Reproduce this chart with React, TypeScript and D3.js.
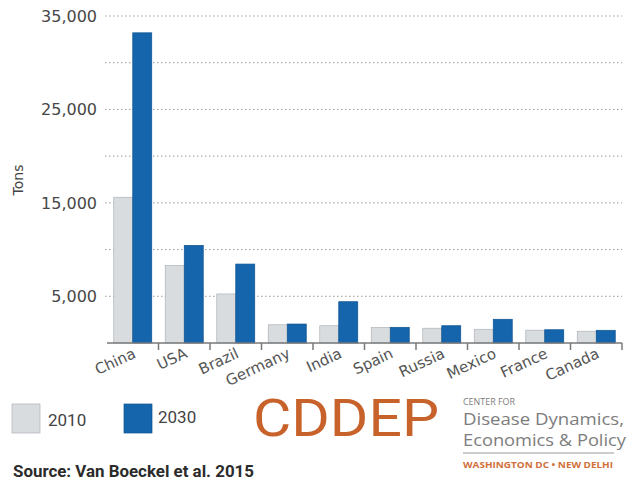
import React from 'react';
import * as d3 from 'd3';

// Antibiotic consumption in livestock, tons
const countries = ['China', 'USA', 'Brazil', 'Germany', 'India', 'Spain', 'Russia', 'Mexico', 'France', 'Canada'];
const years = ['2010', '2030'];
const values2010 = [15600, 8300, 5250, 1950, 1850, 1650, 1580, 1470, 1370, 1260];
const values2030 = [33200, 10450, 8450, 2030, 4420, 1680, 1850, 2540, 1420, 1360];
const gridTicks = [5000, 10000, 15000, 20000, 25000, 30000, 35000];
const labelTicks = [5000, 15000, 25000, 35000];

const W = 631;
const H = 482;
const FONT = '"DejaVu Sans", Verdana, sans-serif';
const COLORS: Record<string, string> = { '2010': '#d9dcdf', '2030': '#1565ad' };
const STROKES: Record<string, string> = { '2010': '#aeb3b8', '2030': '#0f548f' };

const App: React.FC = () => {
  const x0 = d3.scaleBand().domain(countries).range([107, 622]).paddingInner(0).paddingOuter(0);
  const x1 = d3.scaleBand().domain(years).range([0, x0.bandwidth()]).paddingInner(0).paddingOuter(0.355);
  const y = d3.scaleLinear().domain([0, 35000]).range([343, 16]);
  const fmt = d3.format(',');

  const rows = countries.map((c, i) => ({ country: c, '2010': values2010[i], '2030': values2030[i] }));

  return (
    <div style={{ position: 'absolute', left: 0, top: 0 }}>
      <svg width={W} height={H} style={{ display: 'block', background: '#fff' }}>
        {/* Gridlines */}
        {gridTicks.map(t => (
          <line key={t} x1={105} x2={622} y1={y(t)} y2={y(t)} stroke="#9a9a9a" strokeWidth={1} strokeDasharray="1.5,2.5" />
        ))}
        {/* Y tick labels */}
        {labelTicks.map(t => (
          <text key={t} x={97} y={y(t)} dy="0.36em" textAnchor="end" fontFamily={FONT} fontSize={16} fill="#474747">
            {fmt(t)}
          </text>
        ))}
        <text transform={`translate(23,180) rotate(-90)`} textAnchor="middle" fontFamily={FONT} fontSize={14} fill="#444">Tons</text>

        {/* Bars */}
        {rows.map(r => (
          <g key={r.country} transform={`translate(${x0(r.country)},0)`}>
            {years.map(yr => (
              <rect
                key={yr}
                x={x1(yr)!}
                y={y((r as any)[yr])}
                width={x1.bandwidth()}
                height={y(0) - y((r as any)[yr])}
                fill={COLORS[yr]}
                stroke={STROKES[yr]}
                strokeWidth={0.7}
              />
            ))}
          </g>
        ))}

        {/* X axis */}
        <line x1={107} x2={622} y1={343} y2={343} stroke="#7a7a7a" strokeWidth={1.6} />
        {countries.map(c => (
          <line key={c} x1={x0(c)! + x0.bandwidth()} x2={x0(c)! + x0.bandwidth()} y1={343} y2={350} stroke="#7a7a7a" strokeWidth={1.5} />
        ))}
        {countries.map(c => (
          <text
            key={c}
            transform={`translate(${x0(c)! + x0.bandwidth() / 2 + 4},357) rotate(-25)`}
            textAnchor="end"
            fontFamily={FONT}
            fontSize={15}
            fill="#555"
          >
            {c}
          </text>
        ))}

        {/* Legend */}
        {years.map((yr, i) => (
          <g key={yr} transform={`translate(${i === 0 ? 12 : 124},404)`}>
            <rect width={28} height={29} fill={COLORS[yr]} stroke={STROKES[yr]} strokeWidth={0.7} />
            <text x={i === 0 ? 36 : 34} y={i === 0 ? 22 : 19} fontFamily="Roboto, sans-serif" fontSize={17} fill="#444">{yr}</text>
          </g>
        ))}

        <text x={13} y={477} fontFamily="Roboto, sans-serif" fontWeight="bold" fontSize={16} fill="#2b2b2b" textLength={241} lengthAdjust="spacingAndGlyphs">
          Source: Van Boeckel et al. 2015
        </text>

        {/* Logo */}
        <text x={253} y={436} fontFamily="Roboto, sans-serif" fontWeight={400} fontSize={52} fill="#c8622b" textLength={186} lengthAdjust="spacingAndGlyphs">
          CDDEP
        </text>
        <text x={463} y={404.5} fontFamily='"Open Sans", sans-serif' fontSize={9} fill="#7d7d7d" textLength={52} lengthAdjust="spacingAndGlyphs">CENTER FOR</text>
        <text x={463} y={425} fontFamily='"Open Sans", sans-serif' fontSize={16} fill="#7d7d7d" textLength={161} lengthAdjust="spacingAndGlyphs">Disease Dynamics,</text>
        <text x={463} y={446} fontFamily='"Open Sans", sans-serif' fontSize={16} fill="#7d7d7d" textLength={163} lengthAdjust="spacingAndGlyphs">Economics &amp; Policy</text>
        <line x1={463} x2={614} y1={453} y2={453} stroke="#9a9a9a" strokeWidth={1} />
        <text x={463} y={467.5} fontFamily='"Open Sans", sans-serif' fontWeight="bold" fontSize={8} fill="#d0703a" textLength={150} lengthAdjust="spacingAndGlyphs">WASHINGTON DC • NEW DELHI</text>
      </svg>
    </div>
  );
};

export default App;
